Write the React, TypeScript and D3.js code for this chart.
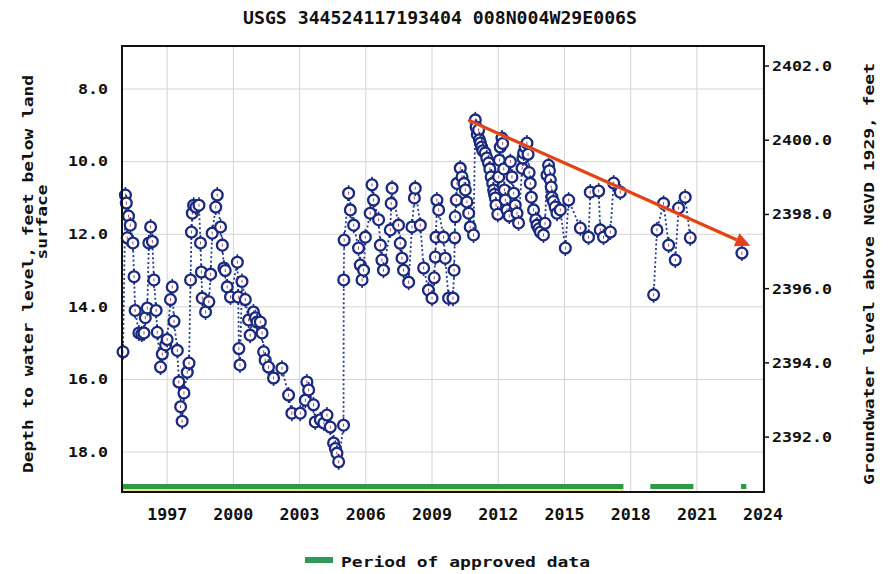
import React from 'react';
import * as d3 from 'd3';

// depth to water (ft below land surface) by decimal year
const period1995_2005: [number, number][] = [
  [1995.0, 15.24], [1995.11, 10.92], [1995.15, 11.14], [1995.19, 12.1], [1995.25, 11.5],
  [1995.33, 11.75], [1995.45, 12.24], [1995.5, 13.17], [1995.55, 14.1], [1995.72, 14.72],
  [1995.85, 14.75], [1995.95, 14.72], [1996.01, 14.3], [1996.1, 14.03], [1996.17, 12.24],
  [1996.25, 11.8], [1996.33, 12.2], [1996.4, 13.26], [1996.5, 14.1], [1996.55, 14.7],
  [1996.7, 15.66], [1996.78, 15.3], [1996.93, 15.05], [1997.0, 14.9], [1997.15, 13.8],
  [1997.23, 13.45], [1997.31, 14.4], [1997.46, 15.2], [1997.53, 16.07], [1997.61, 16.75],
  [1997.68, 17.15], [1997.76, 16.37], [1997.91, 15.8], [1997.99, 15.55], [1998.06, 13.26],
  [1998.1, 11.94], [1998.14, 11.42], [1998.2, 11.2], [1998.3, 11.25], [1998.44, 11.2],
  [1998.51, 12.24], [1998.55, 13.04], [1998.59, 13.76], [1998.74, 14.14], [1998.89, 13.86],
  [1998.97, 13.1], [1999.04, 11.97], [1999.2, 11.25], [1999.27, 10.92], [1999.42, 11.8],
  [1999.5, 12.3], [1999.57, 12.93], [1999.63, 13.0], [1999.72, 13.45], [1999.87, 13.73],
  [2000.18, 12.77], [2000.22, 13.73], [2000.25, 15.15], [2000.3, 15.6], [2000.39, 13.3],
  [2000.54, 13.8], [2000.69, 14.36], [2000.76, 14.78], [2000.91, 14.14], [2001.0, 14.3],
  [2001.07, 14.42], [2001.22, 14.42], [2001.3, 14.72], [2001.37, 15.24], [2001.44, 15.47],
  [2001.59, 15.66], [2001.82, 15.96], [2002.2, 15.69], [2002.5, 16.43], [2002.65, 16.93],
  [2003.03, 16.93], [2003.26, 16.57], [2003.33, 16.07], [2003.41, 16.29], [2003.63, 16.7],
  [2003.71, 17.17], [2003.94, 17.11], [2004.1, 17.2], [2004.24, 16.98], [2004.39, 17.31],
  [2004.54, 17.75], [2004.62, 17.9], [2004.69, 18.03], [2004.77, 18.27], [2004.99, 17.26],
  [2005.0, 13.26], [2005.02, 12.16],
];

const period2005_2010: [number, number][] = [
  [2005.22, 10.87], [2005.3, 11.33], [2005.45, 11.75], [2005.67, 12.38], [2005.75, 12.85],
  [2005.83, 13.26], [2005.9, 12.99], [2005.98, 12.08], [2006.2, 11.42], [2006.28, 10.64],
  [2006.35, 11.06], [2006.58, 11.6], [2006.66, 12.3], [2006.73, 12.71], [2006.8, 12.99],
  [2007.11, 11.88], [2007.15, 11.15], [2007.19, 10.73], [2007.48, 11.75], [2007.56, 12.25],
  [2007.64, 12.66], [2007.71, 12.99], [2007.94, 13.32], [2008.09, 11.8], [2008.2, 11.0],
  [2008.24, 10.73], [2008.47, 11.75], [2008.62, 12.93], [2008.84, 13.54], [2009.0, 13.76],
  [2009.1, 13.2], [2009.15, 12.63], [2009.18, 12.08], [2009.22, 11.06], [2009.3, 11.33],
  [2009.52, 12.08], [2009.6, 12.66], [2009.75, 13.76], [2009.95, 13.76], [2010.0, 12.99],
  [2010.03, 12.1], [2010.05, 11.52], [2010.1, 11.06], [2010.13, 10.6],
];

const period2010_2017: [number, number][] = [
  [2010.28, 10.18], [2010.36, 10.42], [2010.45, 10.6], [2010.51, 10.78], [2010.58, 11.11],
  [2010.66, 11.42], [2010.73, 11.8], [2010.88, 12.02], [2010.96, 8.85], [2011.0, 9.05],
  [2011.05, 9.25], [2011.11, 9.13], [2011.15, 9.4], [2011.19, 9.49], [2011.25, 9.6],
  [2011.3, 9.7], [2011.41, 9.76], [2011.48, 9.9], [2011.56, 10.04], [2011.62, 10.2],
  [2011.68, 10.42], [2011.75, 10.6], [2011.79, 10.78], [2011.83, 10.9], [2011.87, 11.0],
  [2011.9, 11.2], [2011.98, 11.45], [2012.02, 10.42], [2012.05, 9.96], [2012.09, 9.6],
  [2012.17, 9.35], [2012.2, 9.5], [2012.25, 10.2], [2012.28, 10.78], [2012.32, 11.06],
  [2012.4, 11.33], [2012.5, 11.5], [2012.55, 10.0], [2012.62, 10.42], [2012.7, 10.87],
  [2012.77, 11.2], [2012.85, 11.42], [2012.92, 11.69], [2013.08, 10.18], [2013.12, 9.9],
  [2013.15, 9.76], [2013.22, 9.6], [2013.3, 9.49], [2013.35, 9.8], [2013.4, 10.3],
  [2013.45, 10.6], [2013.5, 10.98], [2013.6, 11.33], [2013.7, 11.6], [2013.76, 11.75],
  [2013.84, 11.85], [2013.91, 11.94], [2014.05, 12.02], [2014.12, 11.7], [2014.21, 10.37],
  [2014.28, 10.1], [2014.32, 10.25], [2014.36, 10.5], [2014.4, 10.7], [2014.43, 10.98],
  [2014.5, 11.1], [2014.58, 11.25], [2014.66, 11.42], [2014.81, 11.33], [2015.04, 12.38],
  [2015.19, 11.06], [2015.72, 11.83], [2016.09, 12.08], [2016.17, 10.84], [2016.55, 10.81],
  [2016.62, 11.88], [2016.77, 12.08], [2017.08, 11.94], [2017.23, 10.59], [2017.53, 10.84],
];

const period2019_2021: [number, number][] = [
  [2019.04, 13.67], [2019.19, 11.88], [2019.49, 11.15], [2019.72, 12.3],
  [2020.02, 12.71], [2020.17, 11.28], [2020.47, 10.98], [2020.7, 12.1],
];

const period2023: [number, number][] = [[2023.04, 12.52]];

// periods of approved data (start, end)
const approvedPeriods: [number, number][] = [[1994.97, 2017.67], [2018.89, 2020.84], [2023.0, 2023.24]];

// trend arrow drawn on the original
const trendStart: [number, number] = [2010.64, 8.85];
const trendEnd: [number, number] = [2023.42, 12.32];

const yearTicks = [1997, 2000, 2003, 2006, 2009, 2012, 2015, 2018, 2021, 2024];
const depthTicks = [8, 10, 12, 14, 16, 18];
const elevTicks = [2392, 2394, 2396, 2398, 2400, 2402];

const W = 888;
const H = 574;
const plot = { left: 122, right: 764, top: 46, bottom: 492 };
const mono = '"DejaVu Sans Mono", monospace';

const App: React.FC = () => {
  const x = d3.scaleLinear().domain([1994.954, 2024.04]).range([plot.left, plot.right]);
  const y = d3.scaleLinear().domain([6.815, 19.1]).range([plot.top, plot.bottom]);
  const yRight = d3.scaleLinear().domain([2390.52, 2402.54]).range([plot.bottom, plot.top]);
  const fmt = d3.format('.1f');

  const allPoints = [...period1995_2005, ...period2005_2010, ...period2010_2017, ...period2019_2021, ...period2023];
  // break the dotted line where there is a gap of more than a year
  const segments: [number, number][][] = [];
  allPoints.forEach((p, i) => {
    if (i === 0 || p[0] - allPoints[i - 1][0] > 1) segments.push([]);
    segments[segments.length - 1].push(p);
  });
  const line = d3.line<[number, number]>().x(d => x(d[0])).y(d => y(d[1]));

  const ax1 = x(trendStart[0]), ay1 = y(trendStart[1]);
  const ax2 = x(trendEnd[0]), ay2 = y(trendEnd[1]);
  const ang = Math.atan2(ay2 - ay1, ax2 - ax1);
  const headLen = 15, headW = 7;
  const bx = ax2 - headLen * Math.cos(ang), by = ay2 - headLen * Math.sin(ang);
  const head = [
    [ax2, ay2],
    [bx + headW * Math.sin(ang), by - headW * Math.cos(ang)],
    [bx - headW * Math.sin(ang), by + headW * Math.cos(ang)],
  ].map(p => p.join(',')).join(' ');

  return <div>
      <style>{`body{margin:0;background:#fff}`}</style>
      <svg width={W} height={H} style={{ display: 'block', fontFamily: mono, fontWeight: 'bold' }}>
        <rect width={W} height={H} fill="#fff" />
        <text x={440} y={24} textAnchor="middle" fontSize={17} textLength={394} lengthAdjust="spacingAndGlyphs" fill="#111">
          USGS 344524117193404 008N004W29E006S
        </text>

        {/* grid */}
        {depthTicks.map(t => <line key={'gy' + t} x1={plot.left} x2={plot.right} y1={y(t)} y2={y(t)} stroke="#d4d4d4" strokeWidth={1} />)}
        {yearTicks.map(t => <line key={'gx' + t} x1={x(t)} x2={x(t)} y1={plot.top} y2={plot.bottom} stroke="#d4d4d4" strokeWidth={1} />)}

        {/* approved data bars */}
        {approvedPeriods.map((p, i) => <rect key={'ap' + i} x={x(p[0])} y={484} width={x(p[1]) - x(p[0])} height={5} fill="#2f9a45" />)}
        <line x1={x(approvedPeriods[0][0])} x2={x(approvedPeriods[0][1])} y1={490} y2={490} stroke="#e6e05a" strokeWidth={1.5} />

        {/* dotted connectors */}
        {segments.map((s, i) => <path key={'seg' + i} d={line(s) || ''} fill="none" stroke="#24388f" strokeWidth={1.8} strokeDasharray="2,2.5" />)}

        {/* markers */}
        {allPoints.map((p, i) => <g key={'pt' + i} transform={`translate(${x(p[0])},${y(p[1])})`}>
            <line x1={0} x2={0} y1={-8} y2={8} stroke="#1b2a7e" strokeWidth={1.6} />
            <circle r={5.4} fill="#fff" stroke="#1b2a7e" strokeWidth={2.3} />
            <line x1={0} x2={0} y1={-1.5} y2={1.5} stroke="#b04070" strokeWidth={1} />
          </g>)}

        {/* trend arrow */}
        <line x1={ax1} y1={ay1 + 1} x2={bx} y2={by + 1} stroke="#f2b23a" strokeWidth={2} />
        <line x1={ax1} y1={ay1} x2={bx} y2={by} stroke="#e3401f" strokeWidth={3} />
        <polygon points={head} fill="#e3401f" />

        {/* frame */}
        <rect x={plot.left} y={plot.top} width={plot.right - plot.left} height={plot.bottom - plot.top} fill="none" stroke="#111" strokeWidth={2} />

        {/* left axis */}
        {depthTicks.map(t => <text key={'ly' + t} x={108} y={y(t)} dy="0.36em" textAnchor="end" fontSize={13.5} textLength={fmt(t).length * 10} lengthAdjust="spacingAndGlyphs" fill="#111">{fmt(t)}</text>)}
        <text transform={`translate(33,${274}) rotate(-90)`} textAnchor="middle" fontSize={14} textLength={398} lengthAdjust="spacingAndGlyphs" fill="#111">
          Depth to water level, feet below land
        </text>
        <text transform={`translate(47,${222}) rotate(-90)`} textAnchor="middle" fontSize={14} textLength={75} lengthAdjust="spacingAndGlyphs" fill="#111">
          surface
        </text>

        {/* right axis */}
        {elevTicks.map(t => <g key={'ry' + t}>
            <line x1={plot.right} x2={plot.right + 5} y1={yRight(t)} y2={yRight(t)} stroke="#111" strokeWidth={1.5} />
            <text x={772} y={yRight(t)} dy="0.36em" fontSize={13.5} textLength={60} lengthAdjust="spacingAndGlyphs" fill="#111">{fmt(t)}</text>
          </g>)}
        <text transform={`translate(874,${274}) rotate(-90)`} textAnchor="middle" fontSize={14} textLength={422} lengthAdjust="spacingAndGlyphs" fill="#111">
          Groundwater level above NGVD 1929, feet
        </text>

        {/* bottom axis */}
        {yearTicks.map(t => <text key={'xt' + t} x={x(t)} y={520} textAnchor="middle" fontSize={15.5} textLength={40} lengthAdjust="spacingAndGlyphs" fill="#111">{t}</text>)}

        {/* legend */}
        <rect x={305} y={557} width={28} height={6} fill="#2f9a55" />
        <text x={341} y={567} fontSize={14.5} textLength={249} lengthAdjust="spacingAndGlyphs" fill="#111">Period of approved data</text>
      </svg>
    </div>;
};

export default App;
